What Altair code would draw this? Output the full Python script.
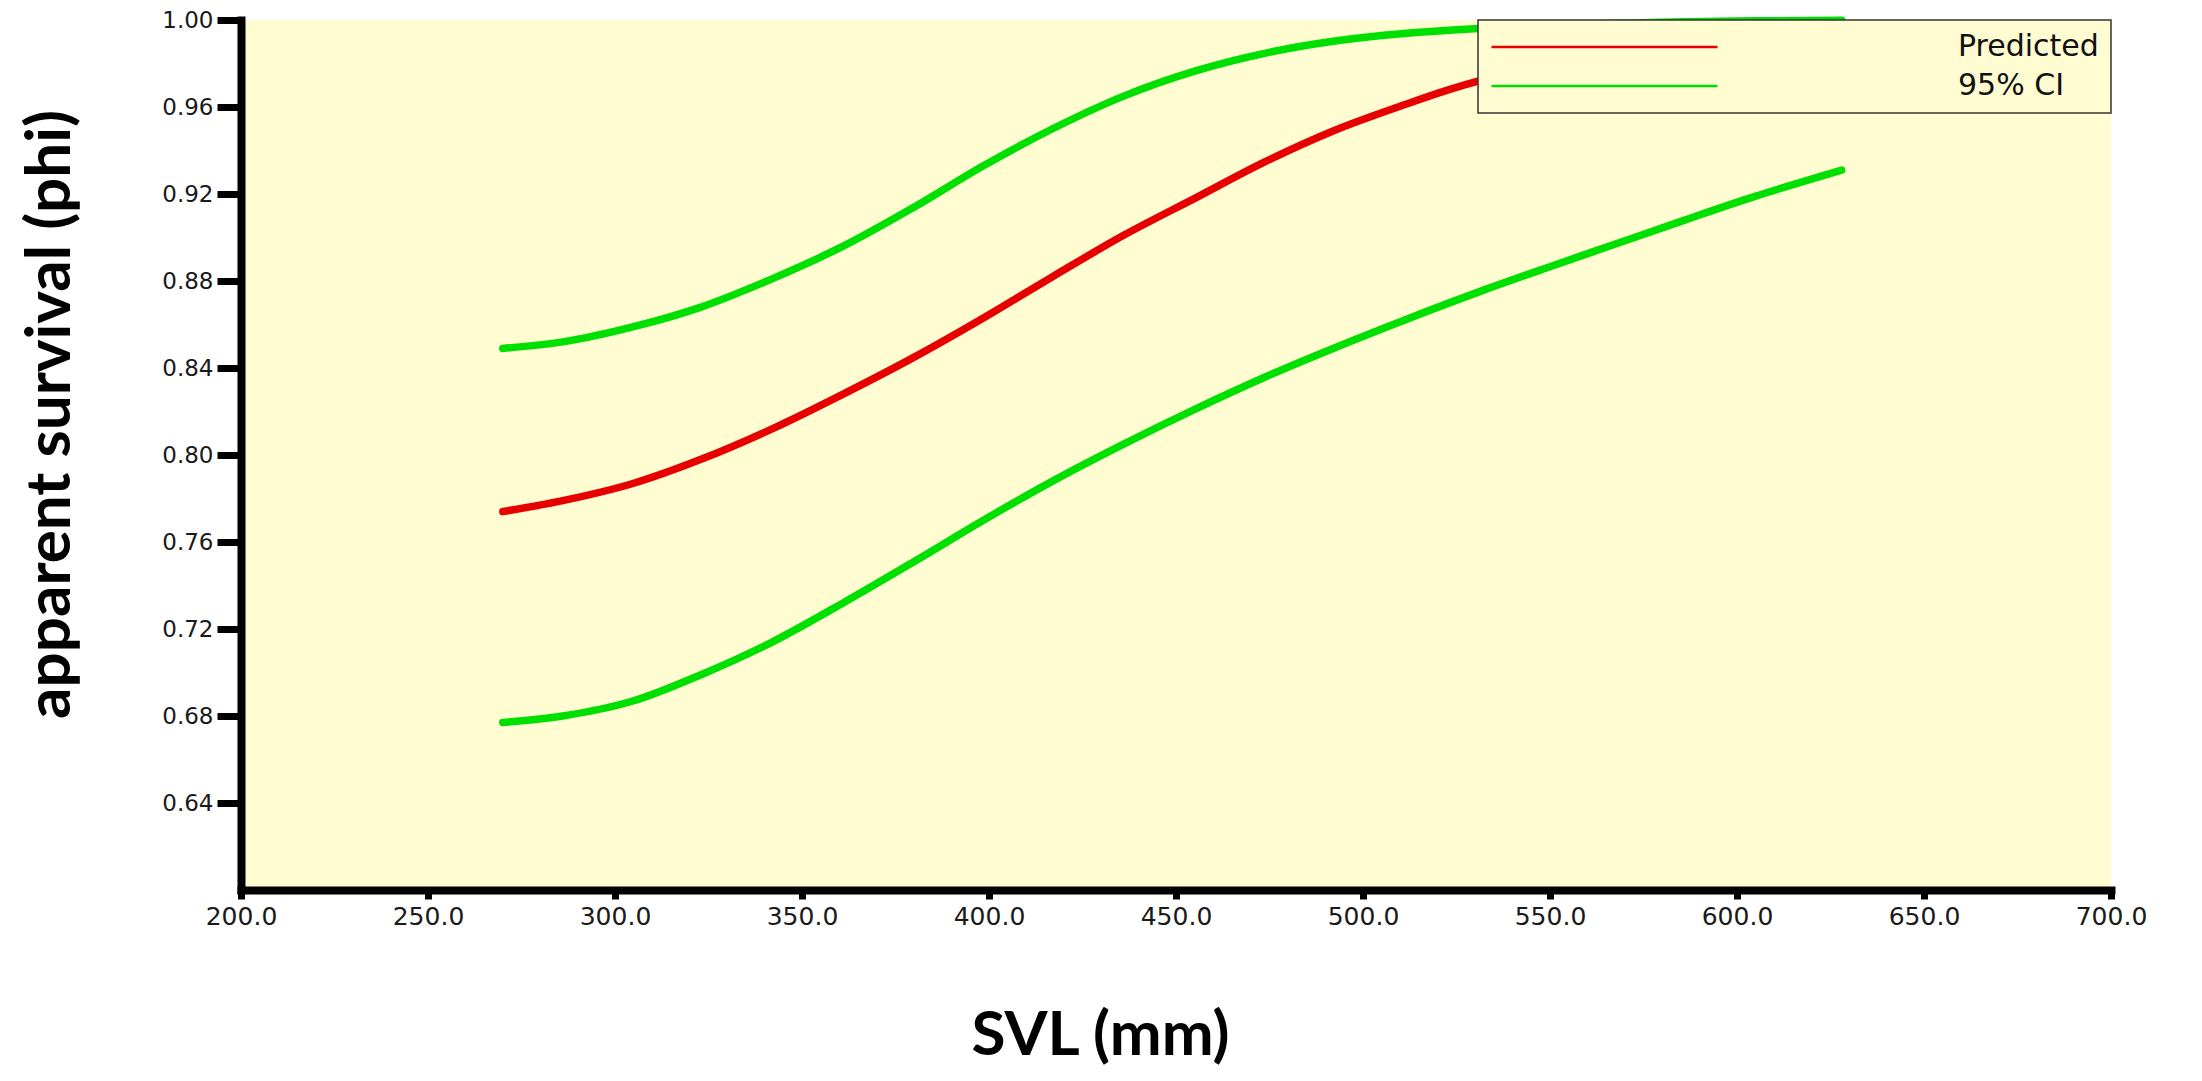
import altair as alt
import pandas as pd

# Predicted apparent survival and its 95% confidence band against snout-vent length
svl_pred = [270, 286, 305, 323, 342, 361, 380, 398.5, 417, 436, 455, 474, 492, 511, 523, 531, 550, 575, 600, 628]
phi_pred = [0.774, 0.779, 0.787, 0.798, 0.812, 0.828, 0.845, 0.863, 0.882, 0.901, 0.918, 0.935, 0.949,
            0.961, 0.968, 0.972, 0.979, 0.986, 0.991, 0.994]

svl_upper = [270, 286, 305, 323, 342, 361, 380, 398.5, 417, 436, 455, 474, 492, 511, 523, 549, 567.5, 586, 605, 628]
phi_upper = [0.849, 0.852, 0.859, 0.868, 0.881, 0.896, 0.914, 0.933, 0.950, 0.965, 0.9765, 0.9848, 0.9902,
             0.9938, 0.9953, 0.9975, 0.9985, 0.9992, 0.9996, 0.9999]

svl_lower = [270, 286, 305, 323, 342, 361, 380, 398.5, 417, 436, 455, 474, 492, 511, 531, 549, 567.5, 586, 605, 628]
phi_lower = [0.677, 0.680, 0.687, 0.699, 0.714, 0.732, 0.751, 0.770, 0.788, 0.805, 0.821, 0.836, 0.849,
             0.862, 0.875, 0.886, 0.897, 0.908, 0.919, 0.931]

series_names = ["Predicted", "95% CI"]
series_colors = ["#e60000", "#00e000"]
x_ticks = [200, 250, 300, 350, 400, 450, 500, 550, 600, 650, 700]
y_ticks = [0.64, 0.68, 0.72, 0.76, 0.80, 0.84, 0.88, 0.92, 0.96, 1.00]

rows = []
for curve, series, xs, ys in [
    ("pred", "Predicted", svl_pred, phi_pred),
    ("upper", "95% CI", svl_upper, phi_upper),
    ("lower", "95% CI", svl_lower, phi_lower),
]:
    for i, (x, y) in enumerate(zip(xs, ys)):
        rows.append({"curve": curve, "series": series, "svl": x, "phi": y, "order": i})
df = pd.DataFrame(rows)

panel_fill = "#fffcd2"
label_font = "DejaVu Sans"
title_font = "Lato"

chart = (
    alt.Chart(df)
    .mark_line(strokeWidth=7.5, interpolate="monotone", strokeCap="round")
    .encode(
        x=alt.X(
            "svl:Q",
            scale=alt.Scale(domain=[200, 700], nice=False, zero=False),
            axis=alt.Axis(
                values=x_ticks,
                format=".1f",
                title="SVL (mm)",
                titleX=859,
                titleY=145,
                titleAlign="center",
                titleBaseline="middle",
                tickSize=9,
                labelPadding=5,
                labelFontSize=25,
            ),
        ),
        y=alt.Y(
            "phi:Q",
            scale=alt.Scale(domain=[0.60, 1.00], nice=False, zero=False),
            axis=alt.Axis(
                values=y_ticks,
                format=".2f",
                title="apparent survival (phi)",
                titleX=-191,
                titleY=394,
                titleAngle=270,
                titleAlign="center",
                titleBaseline="middle",
                tickSize=24,
                labelPadding=4,
                labelFontSize=23,
            ),
        ),
        color=alt.Color(
            "series:N",
            scale=alt.Scale(domain=series_names, range=series_colors),
            sort=series_names,
            legend=alt.Legend(
                title=None,
                orient="top-right",
                offset=0,
                fillColor=panel_fill,
                strokeColor="#333333",
                padding=12,
                symbolType="stroke",
                symbolSize=51076,
                symbolStrokeWidth=2.5,
                clipHeight=30,
                rowPadding=9,
                labelFont=label_font,
                labelFontSize=30,
                labelColor="#111111",
                labelOffset=239,
                zindex=1,
            ),
        ),
        detail="curve:N",
        order="order:Q",
    )
    .properties(
        width=1870,
        height=870,
        autosize=alt.AutoSizeParams(type="none"),
        padding={"left": 241, "top": 20, "right": 91, "bottom": 191},
        background="white",
    )
    .configure_view(fill=panel_fill, strokeWidth=0)
    .configure_axis(
        grid=False,
        domainColor="black",
        domainWidth=8,
        domainCap="square",
        tickColor="black",
        tickWidth=7,
        labelFont=label_font,
        labelColor="#1a1a1a",
        labelFlush=False,
        titleFont=title_font,
        titleFontWeight="bold",
        titleFontSize=62,
        titleColor="black",
    )
    .configure_legend(strokeWidth=1.5)
)

chart.save("out.html", embed_options={"renderer": "svg", "actions": False})
